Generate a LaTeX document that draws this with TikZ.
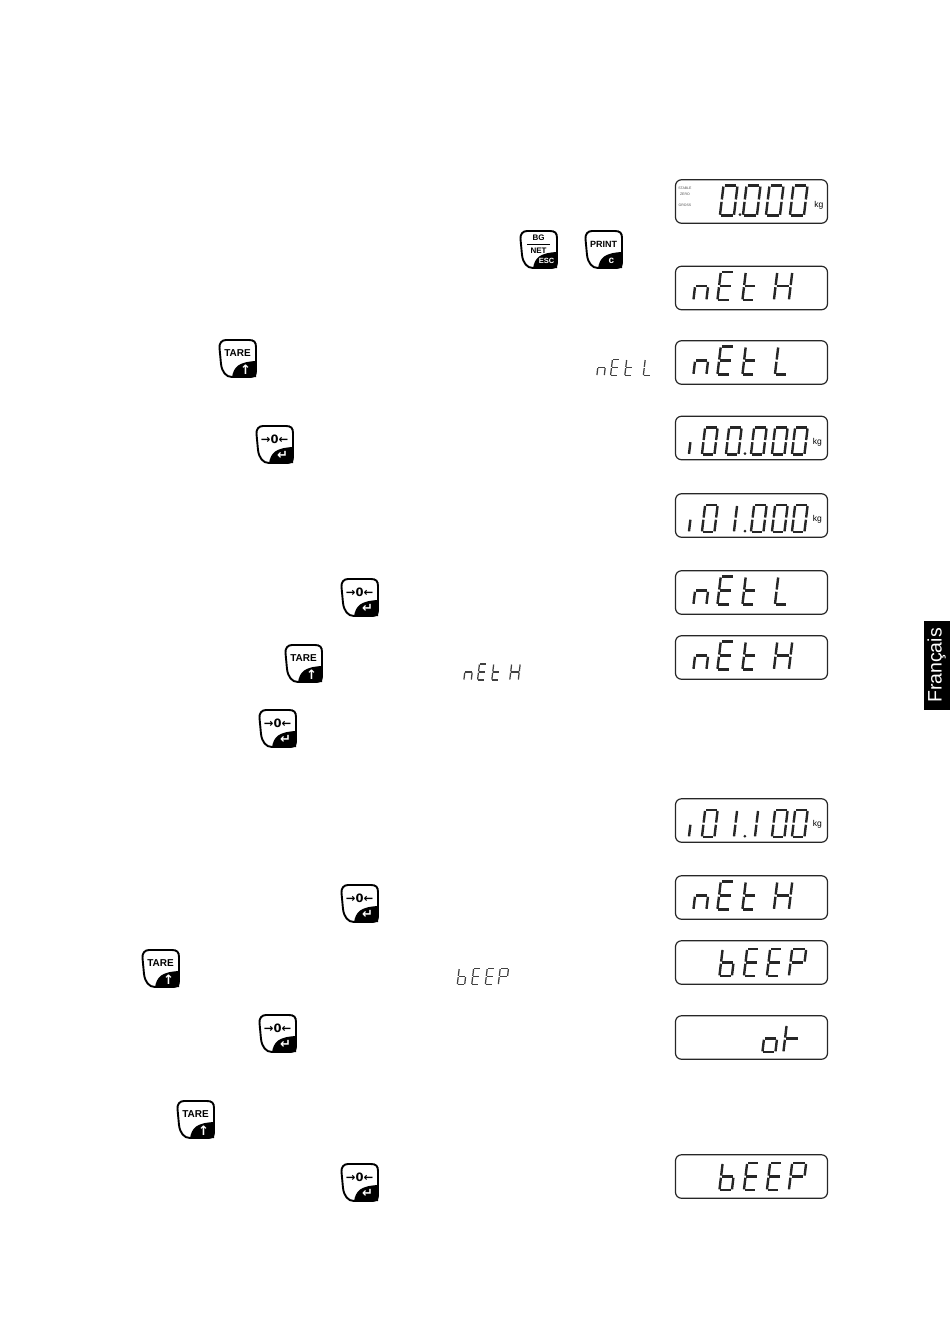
\documentclass[tikz,border=0pt]{standalone}
\usepackage{fontspec}
\setmainfont{Liberation Sans}
\newfontfamily\symfont{DejaVu Sans}[BoldFont={DejaVu Sans Bold}]
\usetikzlibrary{positioning}

% one seven-segment character: x, baseline y, width, height, segments
\newcommand{\lcdchar}[5]{%
  \begin{scope}[shift={(#1,#2)}, xslant=0.12, x=#3pt, y=#4pt]
    \def\sega{(.08,1)--(.92,1)}
    \def\segb{(1,.97)--(1,.54)}
    \def\segc{(1,.46)--(1,.03)}
    \def\segd{(.08,0)--(.92,0)}
    \def\sege{(0,.46)--(0,.03)}
    \def\segf{(0,.97)--(0,.54)}
    \def\segg{(.08,.5)--(.92,.5)}
    \foreach \s in {#5} {
      \expandafter\let\expandafter\segp\csname seg\s\endcsname
      \draw[lcdseg] \segp;
    }
  \end{scope}%
}
% words shown on the display, origin at the lower left of the first letter
\newcommand{\netword}[2]{%
  \lcdchar{1.5}{0}{13}{28}{c,e,g}
  \lcdchar{25.5}{0}{13}{28}{a,d,e,f,g}
  \lcdchar{50.5}{0}{12}{28}{d,e,f,g}
  \lcdchar{#1}{0}{#2}
}
\newcommand{\beepword}{%
  \lcdchar{0.5}{0}{12.5}{27}{c,d,e,f,g}
  \lcdchar{25}{0}{12}{27}{a,d,e,f,g}
  \lcdchar{48}{0}{12}{27}{a,d,e,f,g}
  \lcdchar{70}{0}{14}{27}{a,b,e,f,g}
}
% the row of digits with the short leading one
\newcommand{\lcdrow}[4]{%
  \lcdchar{2}{39}{12}{27}{c}
  \lcdchar{27}{39}{12.5}{27}{a,b,c,d,e,f}
  \lcdchar{#1}{39}{#2}{27}{#3}
  \lcdchar{#4}{39}{12.5}{27}{a,b,c,d,e,f}
}
% key: name, x, y, label, corner label
\newcommand{\keycap}[5]{%
  \begin{scope}[shift={(#2,#3)}]
    \fill (13,37) .. controls (15,27) and (19,22) .. (37,21) -- (37,37) -- cycle;
    \draw[keyrim] (7,0) -- (30,0) .. controls (35,0) and (37,2) .. (37,7) -- (37,31)
      .. controls (37,35) and (35,37) .. (31,37) -- (13,37)
      .. controls (7,37) and (3,32) .. (2,24) -- (0.5,8)
      .. controls (0,3) and (3,0) .. (7,0) -- cycle;
    \node[keylabel] (#1) at (18.5,13) {#4};
    \node[keycorner] (#1c) at (26.5,29.5) {#5};
  \end{scope}%
}
\newcommand{\zerolabel}{{\symfont\bfseries\fontsize{11.5}{11.5}\selectfont →0←}}
\newcommand{\enterlabel}{{\symfont\bfseries\fontsize{13}{13}\selectfont ↵}}
\newcommand{\uplabel}{{\symfont\bfseries\fontsize{13}{13}\selectfont ↑}}

\begin{document}
\begin{tikzpicture}[
    x=1pt, y=-1pt,
    lcdbox/.style={draw=black!85, line width=1.2pt, rounded corners=6pt, minimum width=152pt, minimum height=43.5pt, inner sep=0pt},
    lcdseg/.style={line width=2.4pt, black!85},
    smalllcd/.style={lcdseg/.style={line width=1.25pt, black!75}},
    lcddot/.style={circle, fill=black!85, inner sep=0pt, minimum size=3pt},
    keyrim/.style={line width=1.9pt},
    keyrule/.style={line width=0.9pt, shorten <=-3pt, shorten >=-3pt},
    keylabel/.style={font=\bfseries\fontsize{10}{10}\selectfont, inner sep=0pt, align=center},
    keycorner/.style={font=\bfseries\fontsize{7.5}{7.5}\selectfont, text=white, inner sep=0pt},
    unitlabel/.style={font=\fontsize{8.5}{8.5}\selectfont, inner sep=0pt},
    statuslabel/.style={font=\fontsize{3.5}{3.5}\selectfont, text=black!70, inner sep=0pt}
]
\useasboundingbox (0,0) rectangle (950,1344);

% Displays
\node[lcdbox] (dispZero) at (751.5,201.5) {};
\node[lcdbox] (dispNetHa) at (751.5,288) {};
\node[lcdbox] (dispNetLa) at (751.5,362.5) {};
\node[lcdbox] (dispHundred) at (751.5,438) {};
\node[lcdbox] (dispOneZero) at (751.5,515.5) {};
\node[lcdbox] (dispNetLb) at (751.5,592.5) {};
\node[lcdbox] (dispNetHb) at (751.5,657.5) {};
\node[lcdbox] (dispOneHundred) at (751.5,820.5) {};
\node[lcdbox] (dispNetHc) at (751.5,897.5) {};
\node[lcdbox] (dispBeepa) at (751.5,962.5) {};
\node[lcdbox] (dispOk) at (751.5,1037.5) {};
\node[lcdbox] (dispBeepb) at (751.5,1176.5) {};

% Display contents
\begin{scope}[shift={(dispZero.north west)}]
  \foreach \px in {45,68,91,115} {\lcdchar{\px}{36.5}{14}{30}{a,b,c,d,e,f}}
  \node[lcddot] (dotZero) at (65,35.5) {};
  \node[unitlabel] (kgZero) at (144,26.5) {kg};
  \node[statuslabel] (stable) at (10,9.5) {STABLE};
  \node[statuslabel] (zero) at (10,15) {ZERO};
  \node[statuslabel] (gross) at (10,26.5) {GROSS};
\end{scope}
\foreach \dname in {dispNetHa,dispNetHb,dispNetHc} {
  \begin{scope}[shift={(\dname.north west)}, shift={(17,34.5)}]
    \netword{82}{15}{28}{b,c,e,f,g}
  \end{scope}
}
\foreach \dname in {dispNetLa,dispNetLb} {
  \begin{scope}[shift={(\dname.north west)}, shift={(17,34.5)}]
    \netword{83}{12}{28}{d,e,f}
  \end{scope}
}
\begin{scope}[shift={(dispHundred.north west)}]
  \lcdrow{51}{12.5}{a,b,c,d,e,f}{76}
  \lcdchar{97}{39}{12.5}{27}{a,b,c,d,e,f}
  \lcdchar{117}{39}{12.5}{27}{a,b,c,d,e,f}
  \node[lcddot] (dotHundred) at (70,38) {};
  \node[unitlabel] (kgHundred) at (142.5,26.5) {kg};
\end{scope}
\begin{scope}[shift={(dispOneZero.north west)}]
  \lcdrow{47}{12}{b,c}{76}
  \lcdchar{97}{39}{12.5}{27}{a,b,c,d,e,f}
  \lcdchar{117}{39}{12.5}{27}{a,b,c,d,e,f}
  \node[lcddot] (dotOneZero) at (70,38) {};
  \node[unitlabel] (kgOneZero) at (142.5,26.5) {kg};
\end{scope}
\begin{scope}[shift={(dispOneHundred.north west)}]
  \lcdrow{47}{12}{b,c}{97}
  \lcdchar{68}{39}{12}{27}{b,c}
  \lcdchar{117}{39}{12.5}{27}{a,b,c,d,e,f}
  \node[lcddot] (dotOneHundred) at (70,38) {};
  \node[unitlabel] (kgOneHundred) at (142.5,26.5) {kg};
\end{scope}
\foreach \dname in {dispBeepa,dispBeepb} {
  \begin{scope}[shift={(\dname.north west)}, shift={(44,36)}]
    \beepword
  \end{scope}
}
\begin{scope}[shift={(dispOk.north west)}]
  \lcdchar{87.5}{37}{13}{27}{c,d,e,g}
  \lcdchar{108.5}{37}{14}{27}{e,f,g}
\end{scope}

% Display words in the text
\begin{scope}[shift={(596,375.5)}, scale=0.57, smalllcd]
  \netword{83}{12}{28}{d,e,f}
\end{scope}
\begin{scope}[shift={(463,680)}, scale=0.57, smalllcd]
  \netword{82}{15}{28}{b,c,e,f,g}
\end{scope}
\begin{scope}[shift={(457,984.5)}, scale=0.59, smalllcd]
  \beepword
\end{scope}

% Keys
\keycap{keyBg}{520}{231}{\fontsize{8}{8}\selectfont BG\\[3.5pt]\fontsize{8}{8}\selectfont NET}{ESC}
\draw[keyrule] (keyBg.west) -- (keyBg.east);
\keycap{keyPrint}{585}{231}{\fontsize{9}{9}\selectfont PRINT}{\fontsize{10}{10}\selectfont c}
\keycap{keyTareA}{219}{340}{TARE}{\uplabel}
\keycap{keyTareB}{285}{645}{TARE}{\uplabel}
\keycap{keyTareC}{142}{950}{TARE}{\uplabel}
\keycap{keyTareD}{177}{1101}{TARE}{\uplabel}
\keycap{keyZeroA}{256}{426}{\zerolabel}{\enterlabel}
\keycap{keyZeroB}{341}{579}{\zerolabel}{\enterlabel}
\keycap{keyZeroC}{259}{710}{\zerolabel}{\enterlabel}
\keycap{keyZeroD}{341}{885}{\zerolabel}{\enterlabel}
\keycap{keyZeroE}{259}{1015}{\zerolabel}{\enterlabel}
\keycap{keyZeroF}{341}{1164}{\zerolabel}{\enterlabel}

% Language tab
\fill (924,621) rectangle (950,710);
\node[rotate=90, text=white, font=\fontsize{19.5}{19.5}\selectfont, inner sep=0pt] (lang) at (936.5,665.5) {Français};

\end{tikzpicture}
\end{document}
